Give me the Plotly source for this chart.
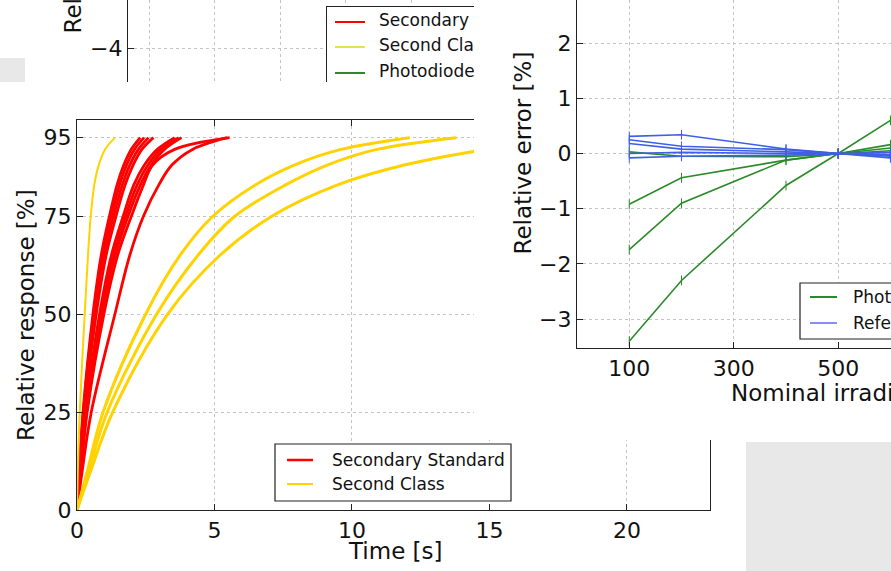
import plotly.graph_objects as go

W, H = 891, 571
FONT = "DejaVu Sans"

# ---------------- data ----------------
# response levels [%] and the time [s] at which each sensor reaches them
resp_levels = [0, 10, 25, 50, 65, 75, 83, 88, 92, 95]

secondary_standard_t = [
    [0, 0.08, 0.22, 0.58, 0.88, 1.18, 1.46, 1.70, 1.97, 2.30],
    [0, 0.08, 0.23, 0.61, 0.93, 1.25, 1.55, 1.80, 2.09, 2.44],
    [0, 0.09, 0.25, 0.66, 0.99, 1.33, 1.65, 1.92, 2.23, 2.60],
    [0, 0.10, 0.26, 0.70, 1.06, 1.42, 1.75, 2.04, 2.36, 2.78],
    [0, 0.11, 0.31, 0.82, 1.25, 1.68, 2.07, 2.45, 2.92, 3.55],
    [0, 0.12, 0.33, 0.87, 1.32, 1.77, 2.19, 2.58, 3.05, 3.70],
    [0, 0.13, 0.35, 0.92, 1.39, 1.86, 2.31, 2.70, 3.18, 3.80],
    [0, 0.14, 0.37, 0.98, 1.48, 1.98, 2.42, 2.75, 3.55, 5.55],
    [0, 0.19, 0.52, 1.38, 1.92, 2.42, 2.98, 3.45, 4.20, 5.45],
]

second_class_t = [
    [0, 0.03, 0.10, 0.28, 0.40, 0.50, 0.63, 0.79, 1.02, 1.38],
    [0, 0.38, 0.95, 2.50, 3.75, 4.95, 6.50, 7.90, 9.60, 12.10],
    [0, 0.43, 1.10, 2.90, 4.40, 5.75, 7.60, 9.10, 10.90, 13.80],
    [0, 0.50, 1.30, 3.30, 5.20, 7.10, 9.50, 11.90, 14.90, 19.00],
]

# relative error [%] against nominal irradiance
irradiance = [100, 200, 400, 500, 600]
photodiode_err = [
    [-3.40, -2.30, -0.58, 0.0, 0.60],
    [-1.74, -0.90, -0.12, 0.0, 0.16],
    [-0.92, -0.44, -0.12, 0.0, 0.10],
    [0.03, -0.05, -0.06, 0.0, 0.05],
]
reference_err = [
    [0.31, 0.34, 0.08, 0.0, -0.08],
    [0.25, 0.13, 0.07, 0.0, -0.05],
    [0.18, 0.08, 0.03, 0.0, -0.03],
    [0.00, 0.02, 0.00, 0.0, -0.02],
    [-0.08, -0.05, -0.03, 0.0, 0.02],
]

time_ticks = [0, 5, 10, 15, 20]
resp_ticks = [0, 25, 50, 75, 95]
irr_ticks = [100, 300, 500]
err_ticks = [-3, -2, -1, 0, 1, 2]
upper_err_ticks = [-5, -4]

RED = "#ff0000"
GOLD = "#ffd200"
GREEN = "#2a8a2a"
BLUE = "#3f5fe6"
GRID = "#c4c4c4"


# ---------------- helpers (pixel -> paper) ----------------
def px(x):
    return x / W


def py(y):
    return 1 - y / H


def dom_x(x0, x1):
    return [max(0.0, x0 / W), min(1.0, x1 / W)]


def dom_y(top, bottom):
    return [max(0.0, 1 - bottom / H), min(1.0, 1 - top / H)]


fig = go.Figure()


def empty(ax):
    fig.add_trace(go.Scatter(x=[None], y=[None], xaxis="x" + ax, yaxis="y" + ax,
                             showlegend=False, hoverinfo="skip"))


# ---- panel 1: upper error plot (only the bottom strip shows) ----
empty("")
# its legend, drawn in an inset with pixel-sized axes
LEG_X = [327, 560]
LEG_Y = [120, 7]
upper_legend = [("Secondary Standard", RED, 22), ("Second Class", "#e4e44a", 47),
                ("Photodiode", GREEN, 73)]
for name, col, yy in upper_legend:
    fig.add_trace(go.Scatter(x=[335, 365], y=[yy, yy], mode="lines",
                             line=dict(color=col, width=2), xaxis="x2", yaxis="y2",
                             showlegend=False, hoverinfo="skip"))
    fig.add_trace(go.Scatter(x=[379], y=[yy], mode="text", text=[name],
                             textposition="middle right",
                             textfont=dict(family=FONT, size=17, color="#111"),
                             xaxis="x2", yaxis="y2", showlegend=False, hoverinfo="skip"))

# ---- panel 2 background card ----
empty("3")

# ---- panel 2: step response ----
for t in secondary_standard_t:
    fig.add_trace(go.Scatter(x=t, y=resp_levels, mode="lines",
                             line=dict(color=RED, width=2.8, shape="spline", smoothing=1),
                             xaxis="x4", yaxis="y4", showlegend=False, hoverinfo="skip"))
for i, t in enumerate(second_class_t):
    fig.add_trace(go.Scatter(x=t, y=resp_levels, mode="lines",
                             line=dict(color=GOLD, width=2 if i == 0 else 3,
                                       shape="spline", smoothing=1),
                             xaxis="x4", yaxis="y4", showlegend=False, hoverinfo="skip"))

# ---- panel 3 background card ----
empty("5")

# ---- panel 3: linearity error ----
for e in photodiode_err:
    fig.add_trace(go.Scatter(x=irradiance, y=e, mode="lines+markers",
                             line=dict(color=GREEN, width=1.6),
                             marker=dict(symbol="line-ns", size=7,
                                         line=dict(color=GREEN, width=1)),
                             xaxis="x6", yaxis="y6", showlegend=False, hoverinfo="skip"))
for e in reference_err:
    fig.add_trace(go.Scatter(x=irradiance, y=e, mode="lines+markers",
                             line=dict(color=BLUE, width=1.6),
                             marker=dict(symbol="line-ns", size=7,
                                         line=dict(color=BLUE, width=1)),
                             xaxis="x6", yaxis="y6", showlegend=False, hoverinfo="skip"))

tickfont = dict(family=FONT, size=22, color="#111")
hidden = dict(visible=False, showgrid=False, zeroline=False, range=[0, 1])

fig.update_layout(
    width=W, height=H,
    margin=dict(l=0, r=0, t=0, b=0, autoexpand=False),
    paper_bgcolor="white", plot_bgcolor="white",
    showlegend=False,
    font=dict(family=FONT, color="#111"),
    # panel 1
    xaxis=dict(domain=dom_x(128, 891), range=[67.9, 1232.8], anchor="y",
               showline=False, showticklabels=False, ticks="", zeroline=False,
               showgrid=True, gridcolor=GRID, griddash="dot", tick0=100, dtick=100),
    yaxis=dict(domain=dom_y(0, 120), range=[-5.309, -3.127], anchor="x",
               showline=True, linecolor="#222", linewidth=1.2, ticks="inside",
               ticklen=6, tickcolor="#222", tickvals=upper_err_ticks, tickfont=tickfont,
               showgrid=True, gridcolor=GRID, griddash="dot", zeroline=False),
    xaxis2=dict(domain=dom_x(*LEG_X), range=LEG_X, anchor="y2", showline=True,
                mirror=True, linecolor="#222", linewidth=1.2, showticklabels=False,
                ticks="", showgrid=False, zeroline=False),
    yaxis2=dict(domain=dom_y(LEG_Y[1], LEG_Y[0]), range=LEG_Y, anchor="x2",
                showline=True, mirror=True, linecolor="#222", linewidth=1.2,
                showticklabels=False, ticks="", showgrid=False, zeroline=False),
    # panel 2
    xaxis3=dict(domain=[0, 1], anchor="y3", **hidden),
    yaxis3=dict(domain=dom_y(82, 571), anchor="x3", **hidden),
    xaxis4=dict(domain=dom_x(77, 710), range=[0, 23.02], anchor="y4",
                showline=True, mirror="ticks", linecolor="#222", linewidth=1.2,
                ticks="inside", ticklen=6, tickcolor="#222", tickvals=time_ticks,
                tickfont=tickfont, showgrid=True, gridcolor=GRID, griddash="dot",
                zeroline=False),
    yaxis4=dict(domain=dom_y(120, 510), range=[0, 99.5], anchor="x4",
                showline=True, mirror="ticks", linecolor="#222", linewidth=1.2,
                ticks="inside", ticklen=6, tickcolor="#222", tickvals=resp_ticks,
                tickfont=tickfont, showgrid=True, gridcolor=GRID, griddash="dot",
                zeroline=False),
    # panel 3
    xaxis5=dict(domain=dom_x(474, 891), anchor="y5", **hidden),
    yaxis5=dict(domain=dom_y(0, 440), anchor="x5", **hidden),
    xaxis6=dict(domain=dom_x(577, 891), range=[0, 601], anchor="y6",
                showline=True, linecolor="#222", linewidth=1.2, ticks="inside",
                ticklen=6, tickcolor="#222", tickvals=irr_ticks, tickfont=tickfont,
                showgrid=True, gridcolor=GRID, griddash="dot", zeroline=False),
    yaxis6=dict(domain=dom_y(0, 348), range=[-3.524, 2.781], anchor="x6",
                showline=True, linecolor="#222", linewidth=1.2, ticks="inside",
                ticklen=6, tickcolor="#222", tickvals=err_ticks, tickfont=tickfont,
                showgrid=True, gridcolor=GRID, griddash="dot", zeroline=False),
)

label_font = dict(family=FONT, size=23, color="#111")
legend_font = dict(family=FONT, size=17, color="#111")

annotations = [
    dict(text="Relative error [%]", x=px(72), y=py(36), textangle=-90,
         xanchor="center", yanchor="bottom", font=label_font),
    dict(text="Relative response [%]", x=px(26), y=py(315), textangle=-90,
         xanchor="center", yanchor="middle", font=label_font),
    dict(text="Time [s]", x=px(395), y=py(551), xanchor="center", yanchor="middle",
         font=label_font),
    dict(text="Relative error [%]", x=px(522), y=py(153.5), textangle=-90,
         xanchor="center", yanchor="middle", font=label_font),
    dict(text="Nominal irradiance [W/m²]", x=px(729), y=py(393), xanchor="left",
         yanchor="middle", font=label_font),
    dict(text="Secondary Standard", x=px(330), y=py(460), xanchor="left",
         yanchor="middle", font=legend_font),
    dict(text="Second Class", x=px(330), y=py(484), xanchor="left",
         yanchor="middle", font=legend_font),
    dict(text="Photodiode", x=px(851), y=py(297), xanchor="left",
         yanchor="middle", font=legend_font),
    dict(text="Reference", x=px(851), y=py(323), xanchor="left",
         yanchor="middle", font=legend_font),
]
for a in annotations:
    a.update(xref="paper", yref="paper", showarrow=False)
fig.update_layout(annotations=annotations)


def rect(x0, y0, x1, y1, fill, line_w=0, line_c="#222"):
    return dict(type="rect", xref="paper", yref="paper", x0=px(x0), x1=px(x1),
                y0=py(y1), y1=py(y0), fillcolor=fill, layer="above",
                line=dict(width=line_w, color=line_c))


def seg(x0, x1, y, color, width):
    return dict(type="line", xref="paper", yref="paper", x0=px(x0), x1=px(x1),
                y0=py(y), y1=py(y), layer="above", line=dict(color=color, width=width))


shapes = [
    # grey page patches
    rect(0, 58, 25, 82, "#e8e8e8"),
    rect(746, 442, 891, 571, "#e8e8e8"),
    # response legend
    rect(275, 444, 511, 501, "white", 1.2),
    seg(287, 313, 460, RED, 2.5),
    seg(287, 313, 484, GOLD, 2),
    # error legend
    rect(800, 283, 960, 339, "white", 1.2),
    seg(810, 837, 297, GREEN, 2),
    seg(810, 837, 323, "#6a72f0", 1.6),
]
fig.update_layout(shapes=shapes)

fig.write_html("out.html", config={"displayModeBar": False})
